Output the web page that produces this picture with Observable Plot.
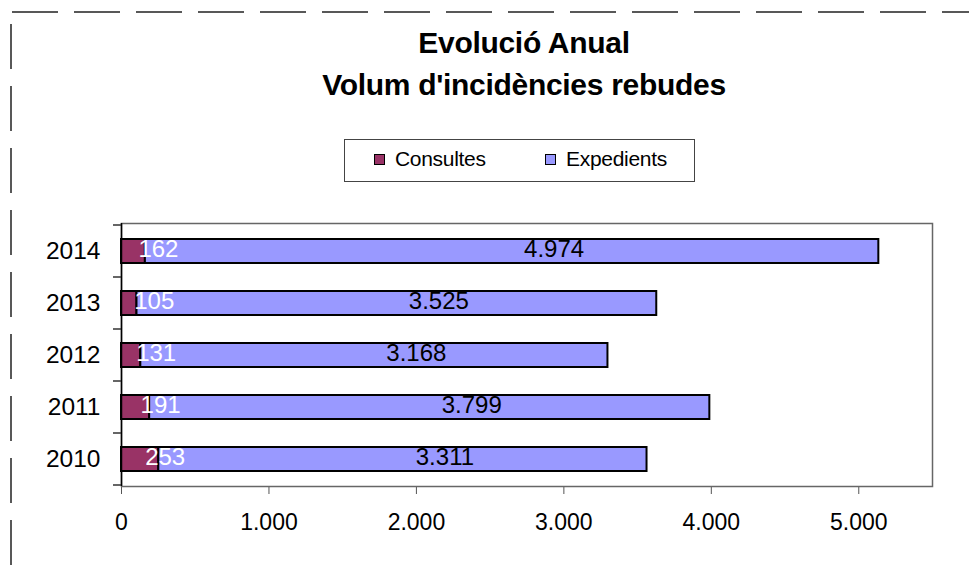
<!DOCTYPE html>
<html>
<head>
<meta charset="utf-8">
<script src="https://cdn.jsdelivr.net/npm/d3@7"></script>
<script src="https://cdn.jsdelivr.net/npm/@observablehq/plot@0.6"></script>
<style>
  body { margin: 0; background: #fff; font-family: "Liberation Sans", Arial, sans-serif; }
  #wrap { position: relative; width: 969px; height: 574px; overflow: hidden; background: #fff; }
  #head { position: relative; height: 195px; }
  #title { position: absolute; left: 174px; width: 700px; top: 22px; text-align: center;
           font-weight: bold; font-size: 30px; line-height: 42px; color: #000; letter-spacing: -0.3px; }
  #legend { position: absolute; left: 344px; top: 139px; width: 349px; height: 41px; border: 1px solid #444; }
  .item { position: absolute; top: 0; height: 41px; }
  .sw { position: absolute; top: 14px; width: 9px; height: 9px; border: 1px solid #000; }
  .lab { position: absolute; top: 8px; left: 21px; font-size: 21px; line-height: 21px; white-space: nowrap; color: #000; letter-spacing: -0.3px; }
  #deco { position: absolute; left: 0; top: 0; pointer-events: none; }
</style>
</head>
<body>
<div id="wrap">
  <div id="head">
    <div id="title">Evolució Anual<br>Volum d'incidències rebudes</div>
    <div id="legend"></div>
  </div>
  <div id="chart"></div>
  <svg id="deco" width="969" height="574"></svg>
</div>
<script>
// ---- data ----
const years = ["2010", "2011", "2012", "2013", "2014"];
const consultes = [253, 191, 131, 105, 162];
const expedients = [3311, 3799, 3168, 3525, 4974];
const series = ["Consultes", "Expedients"];
const seriesColors = ["#993366", "#9999FF"];
const xTicks = [0, 1000, 2000, 3000, 4000, 5000];
const xMax = 5500;

const loc = d3.formatLocale({decimal: ",", thousands: ".", grouping: [3], currency: ["", "€"]});
const fmt = loc.format(",d");

const rows = years.flatMap((y, i) => [
  {year: y, type: series[0], value: consultes[i]},
  {year: y, type: series[1], value: expedients[i]}
]);
const cLabels = years.map((y, i) => ({year: y, mid: consultes[i] / 2, text: fmt(consultes[i])}));
const eLabels = years.map((y, i) => ({year: y, mid: consultes[i] + expedients[i] / 2, text: fmt(expedients[i])}));

// ---- legend ----
const legend = document.getElementById("legend");
const legendLeft = [29, 200];
series.forEach((s, i) => {
  const it = document.createElement("div");
  it.className = "item";
  it.style.left = legendLeft[i] + "px";
  it.innerHTML = `<div class="sw" style="background:${seriesColors[i]}"></div><div class="lab">${s}</div>`;
  legend.appendChild(it);
});

// ---- chart ----
const plot = Plot.plot({
  width: 969,
  height: 379,
  marginLeft: 121,
  marginRight: 37,
  marginTop: 28,
  marginBottom: 88,
  style: {fontFamily: '"Liberation Sans", Arial, sans-serif', fontSize: "23px", color: "#000", background: "transparent", overflow: "visible"},
  x: {domain: [0, xMax], ticks: xTicks, tickFormat: fmt, tickSize: 8, tickPadding: 19, label: null},
  y: {domain: [...years].reverse(), paddingInner: 0.54, paddingOuter: 0.27, tickSize: 0, tickPadding: 21, label: null},
  color: {domain: series, range: seriesColors},
  marks: [
    Plot.frame({stroke: "#666", strokeWidth: 1.5}),
    Plot.barX(rows, Plot.stackX({x: "value", y: "year", fill: "type", stroke: "#000", strokeWidth: 2})),
    Plot.text(cLabels, {x: "mid", y: "year", text: "text", fill: "white", dx: 25, dy: -2, fontSize: 24}),
    Plot.text(eLabels, {x: "mid", y: "year", text: "text", fill: "black", dx: 42, dy: -2, fontSize: 24}),
    Plot.ruleX([0], {stroke: "#000", strokeWidth: 1.5})
  ]
});
document.getElementById("chart").appendChild(plot);

// category boundary ticks on the y axis (from the band scale)
const svg = d3.select(plot);
const ys = plot.scale("y");
const gap = (ys.step - ys.bandwidth) / 2;
const bounds = new Set();
years.forEach(y => { const s = ys.apply(y); bounds.add(Math.round((s - gap) * 10) / 10); bounds.add(Math.round((s + ys.bandwidth + gap) * 10) / 10); });
const x0 = plot.scale("x").apply(0);
svg.append("g").attr("stroke", "#333").attr("stroke-width", 1.5)
  .selectAll("line").data([...bounds]).join("line")
  .attr("x1", x0 - 8).attr("x2", x0).attr("y1", d => d).attr("y2", d => d);
svg.selectAll('[aria-label="x-axis tick"] path, [aria-label="x-axis tick"]').attr("stroke", "#555");
svg.selectAll('[aria-label="y-axis tick label"] text, [aria-label="y-axis tick label"]').style("font-size", "24.5px");

// decorative dashed page border
const deco = d3.select("#deco");
deco.append("line").attr("x1", 12).attr("x2", 969).attr("y1", 12).attr("y2", 12)
  .attr("stroke", "#222").attr("stroke-width", 1.5).attr("stroke-dasharray", "46 16");
deco.append("line").attr("x1", 11).attr("x2", 11).attr("y1", 24).attr("y2", 574)
  .attr("stroke", "#222").attr("stroke-width", 1.5).attr("stroke-dasharray", "45 17");
</script>
</body>
</html>
